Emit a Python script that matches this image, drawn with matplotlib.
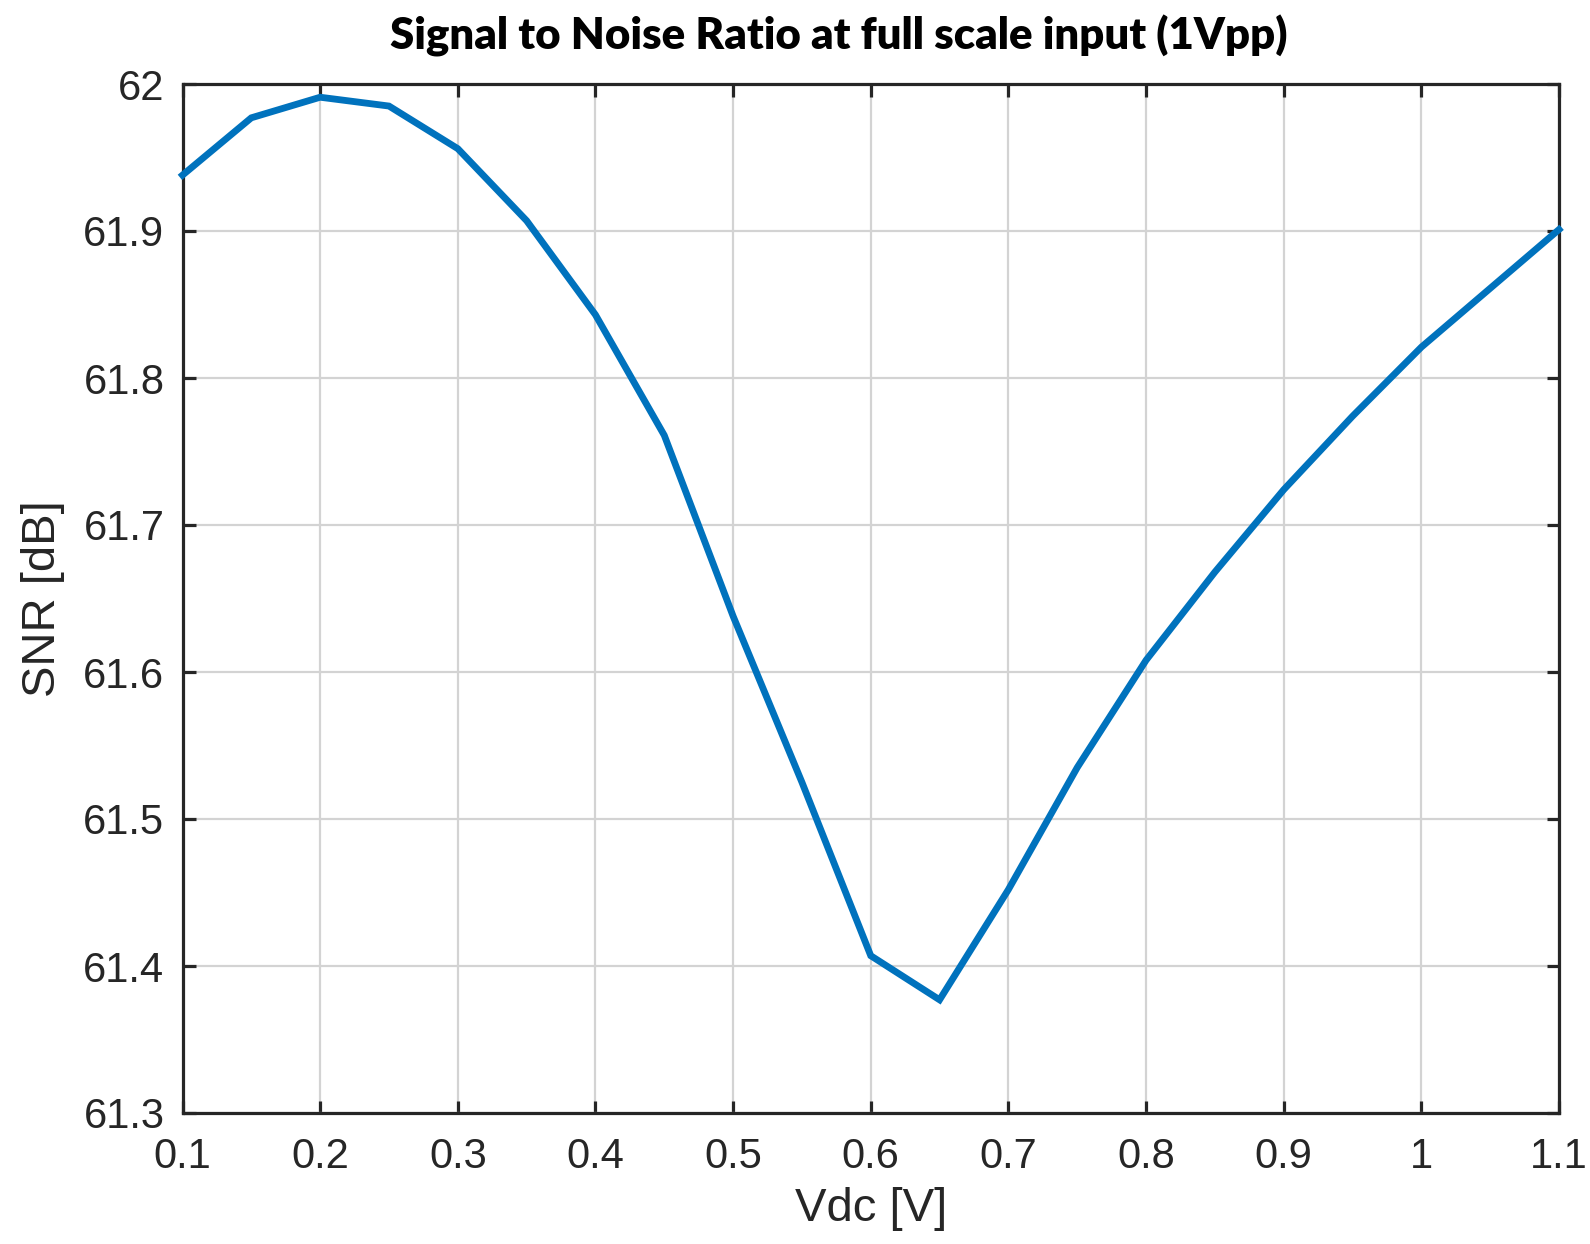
import matplotlib
matplotlib.use("Agg")
import matplotlib.pyplot as plt
from matplotlib.ticker import FuncFormatter

# Measured SNR versus DC bias
vdc = [0.10, 0.15, 0.20, 0.25, 0.30, 0.35, 0.40, 0.45, 0.50, 0.55, 0.60,
       0.65, 0.70, 0.75, 0.80, 0.85, 0.90, 0.95, 1.00, 1.05, 1.10]
snr_db = [61.938, 61.977, 61.991, 61.985, 61.956, 61.907, 61.843, 61.761,
          61.638, 61.525, 61.407, 61.377, 61.452, 61.535, 61.608, 61.668,
          61.724, 61.774, 61.821, 61.861, 61.901]

x_ticks = [0.1, 0.2, 0.3, 0.4, 0.5, 0.6, 0.7, 0.8, 0.9, 1.0, 1.1]
y_ticks = [61.3, 61.4, 61.5, 61.6, 61.7, 61.8, 61.9, 62.0]

W, H = 1590, 1244
fig = plt.figure(figsize=(W / 100, H / 100), dpi=100)
left, right, top, bottom = 182.5, 1559, 84, 1113
ax = fig.add_axes([left / W, 1 - bottom / H, (right - left) / W, (bottom - top) / H])

ink = "#262626"
sans = ["Liberation Sans", "DejaVu Sans"]
ax.plot(vdc, snr_db, color="#0072BD", lw=4.9, solid_joinstyle="miter", clip_on=False, zorder=3)

ax.set_xlim(0.1, 1.1)
ax.set_ylim(61.3, 62.0)
ax.set_xticks(x_ticks)
ax.set_yticks(y_ticks)
fmt = FuncFormatter(lambda v, p: f"{v:.10g}" if abs(v - round(v)) > 1e-9 else f"{int(round(v))}")
ax.xaxis.set_major_formatter(fmt)
ax.yaxis.set_major_formatter(fmt)

ax.grid(True, color="#d3d3d3", lw=1.6, zorder=0)
ax.set_axisbelow(True)
for s in ax.spines.values():
    s.set_color(ink)
    s.set_linewidth(2.3)
ax.tick_params(direction="in", length=9, width=2.3, colors=ink, top=True, right=True,
               labelsize=30)
ax.tick_params(axis="x", pad=17)
ax.tick_params(axis="y", pad=13)
for lbl in ax.get_xticklabels() + ax.get_yticklabels():
    lbl.set_family(sans)

ax.set_xlabel("Vdc [V]", fontsize=34, color=ink, family=sans)
ax.set_ylabel("SNR [dB]", fontsize=34, color=ink, family=sans)
ax.xaxis.set_label_coords(0.5, -0.072)
ax.yaxis.set_label_coords(-0.085, 0.5)

fig.text(839 / W, 1 - 36 / H, "Signal to Noise Ratio at full scale input (1Vpp)",
         ha="center", va="center", fontsize=31.5, fontweight="heavy", family=["Lato", "DejaVu Sans"],
         color="black")

fig.savefig("out.png", dpi=100, facecolor="white")
